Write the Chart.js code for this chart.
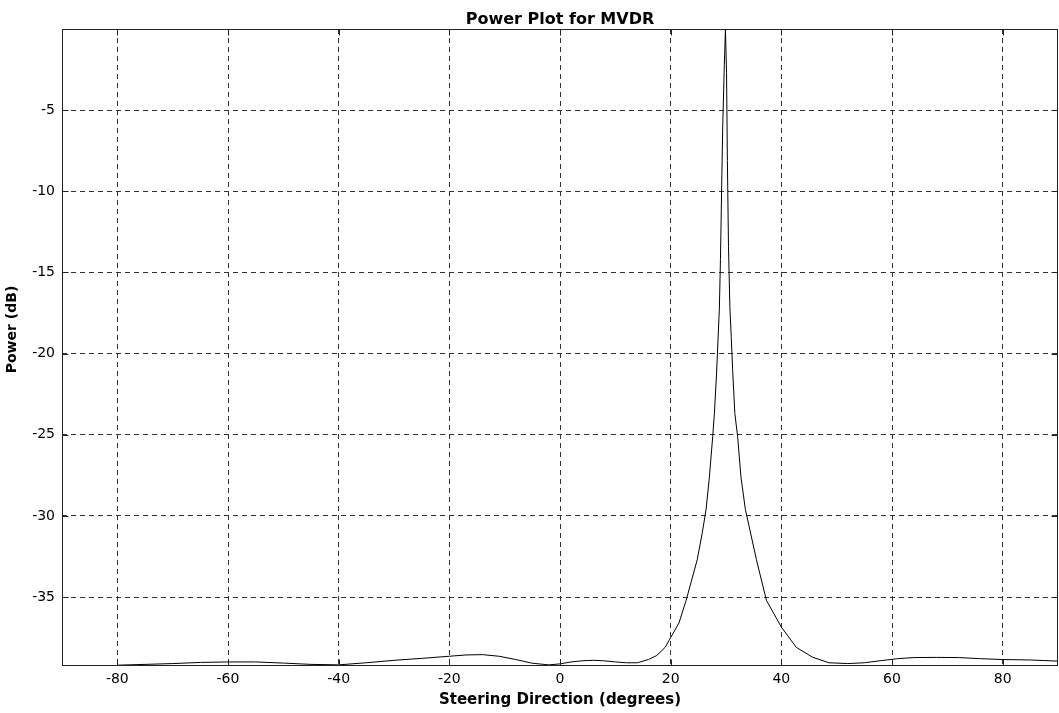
<!DOCTYPE html>
<html>
<head>
<meta charset="utf-8">
<title>Power Plot for MVDR</title>
<script src="https://cdn.jsdelivr.net/npm/chart.js@4.4.0/dist/chart.umd.min.js"></script>
<style>
  html, body { margin: 0; padding: 0; background: #fff; }
  #wrap { width: 1059px; height: 713px; }
</style>
</head>
<body>
<div id="wrap"><canvas id="mvdrChart" width="1059" height="713"></canvas></div>
<script>
// MVDR spatial spectrum vs steering angle (source near 30 deg)
const steeringDeg = [
  -80, -75, -70, -65, -60, -55, -50, -45, -40, -35, -30, -25, -20, -17, -14, -11, -8, -5, -2, 0,
  2, 4, 6, 8, 10, 12, 14, 16, 17.5, 19, 20, 21.5, 22.8, 24.8, 25.7, 26.4, 27, 27.6, 27.9, 28.3,
  28.8, 29, 29.2, 29.4, 29.7, 29.9, 30.1, 30.25, 30.45, 30.7, 30.95, 31.2, 31.6, 32.1, 32.7, 33.5,
  35.5, 37.3, 40, 42.7, 45.6, 48.6, 52, 55, 58, 61, 64, 68, 72, 76, 80, 85, 88, 90
];
const powerDb = [
  -39.2, -39.15, -39.1, -39.03, -39.0, -39.0, -39.07, -39.15, -39.18, -39.05, -38.9, -38.78, -38.65, -38.57, -38.55, -38.65, -38.85, -39.08, -39.18, -39.12,
  -39.0, -38.93, -38.9, -38.93, -39.0, -39.05, -39.05, -38.85, -38.6, -38.1, -37.5, -36.6, -35.2, -32.7, -31.06, -29.6, -27.6, -25.1, -23.7, -21.2,
  -17.2, -14.2, -10.1, -6.1, -2.2, 0, -2.7, -8.1, -13.4, -17.1, -19.0, -21.0, -23.7, -25.1, -27.6, -29.6,
  -32.7, -35.2, -36.85, -38.1, -38.7, -39.05, -39.1, -39.05, -38.92, -38.8, -38.73, -38.72, -38.73, -38.8, -38.85, -38.88, -38.92, -38.95
];
const xTickValues = [-80, -60, -40, -20, 0, 20, 40, 60, 80];
const yTickValues = [-35, -30, -25, -20, -15, -10, -5];
const xRange = [-90, 90];
const yRange = [-39.25, 0];

const FONT = '"DejaVu Sans", "Liberation Sans", sans-serif';

// frame with inward tick marks, the title over the plot box and the rotated y label
const axesBox = {
  id: 'axesBox',
  afterDraw(chart) {
    const {ctx, chartArea: a, scales} = chart;
    const l = Math.round(a.left) + 0.5, r = Math.round(a.right) - 0.5;
    const t = Math.round(a.top) + 0.5, b = Math.round(a.bottom) - 0.5;
    ctx.save();
    ctx.strokeStyle = '#222';
    ctx.lineWidth = 1;
    ctx.setLineDash([]);
    ctx.strokeRect(l, t, r - l, b - t);
    ctx.beginPath();
    xTickValues.forEach(v => {
      const px = Math.round(scales.x.getPixelForValue(v)) + 0.5;
      ctx.moveTo(px, b); ctx.lineTo(px, b - 6);
      ctx.moveTo(px, t); ctx.lineTo(px, t + 6);
    });
    yTickValues.forEach(v => {
      const py = Math.round(scales.y.getPixelForValue(v)) + 0.5;
      ctx.moveTo(l, py); ctx.lineTo(l + 6, py);
      ctx.moveTo(r, py); ctx.lineTo(r - 6, py);
    });
    ctx.stroke();

    ctx.fillStyle = '#000';
    ctx.textAlign = 'center';
    ctx.textBaseline = 'alphabetic';
    ctx.font = 'bold 16px ' + FONT;
    ctx.fillText('Power Plot for MVDR', (a.left + a.right) / 2, a.top - 5);

    ctx.translate(12, (a.top + a.bottom) / 2 - 18);
    ctx.rotate(-Math.PI / 2);
    ctx.font = 'bold 14px ' + FONT;
    ctx.textBaseline = 'middle';
    ctx.fillText('Power (dB)', 0, 0);
    ctx.restore();
  }
};

const ctx = document.getElementById('mvdrChart').getContext('2d');
new Chart(ctx, {
  type: 'line',
  data: {
    datasets: [{
      data: steeringDeg.map((x, i) => ({x: x, y: powerDb[i]})),
      borderColor: '#000',
      borderWidth: 1,
      pointRadius: 0,
      tension: 0,
      fill: false
    }]
  },
  options: {
    responsive: false,
    animation: false,
    layout: { padding: { left: 0, right: 1, top: 29, bottom: 0 } },
    plugins: {
      legend: { display: false },
      tooltip: { enabled: false },
      title: { display: false }
    },
    scales: {
      x: {
        type: 'linear',
        min: xRange[0],
        max: xRange[1],
        afterBuildTicks: s => { s.ticks = xTickValues.map(value => ({value})); },
        afterFit: s => { s.height = 47; },
        grid: { color: '#333', lineWidth: 1, drawTicks: false },
        border: { display: false, dash: [5, 4] },
        ticks: { padding: 5, color: '#000', maxRotation: 0, autoSkip: false, font: { family: FONT, size: 14 } },
        title: {
          display: true,
          text: 'Steering Direction (degrees)',
          color: '#000',
          font: { family: FONT, size: 15, weight: 'bold' },
          padding: { top: 2, bottom: 4 }
        }
      },
      y: {
        type: 'linear',
        min: yRange[0],
        max: yRange[1],
        afterBuildTicks: s => { s.ticks = yTickValues.map(value => ({value})); },
        afterFit: s => { s.width = 62; },
        grid: { color: '#333', lineWidth: 1, drawTicks: false },
        border: { display: false, dash: [5, 4] },
        ticks: { padding: 7, color: '#000', font: { family: FONT, size: 14 } }
      }
    }
  },
  plugins: [axesBox]
});
</script>
</body>
</html>
